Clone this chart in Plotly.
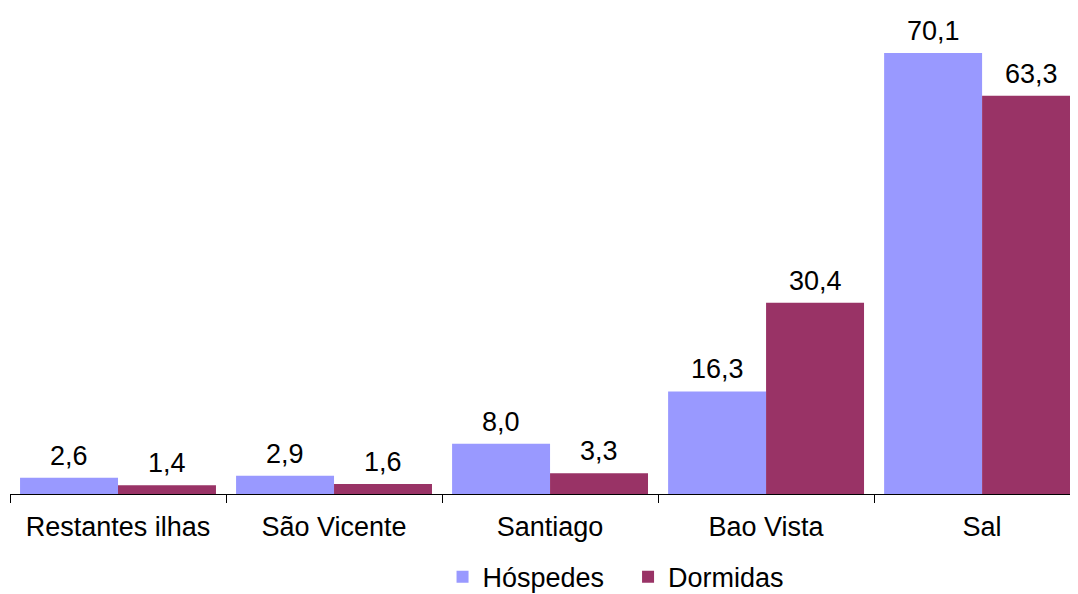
import plotly.graph_objects as go

categories = ["Restantes ilhas", "São Vicente", "Santiago", "Bao Vista", "Sal"]
hospedes = [2.6, 2.9, 8.0, 16.3, 70.1]
dormidas = [1.4, 1.6, 3.3, 30.4, 63.3]
series_names = ["Hóspedes", "Dormidas"]
colors = ["#9999FF", "#993366"]
legend_ids = ["legend", "legend2"]

FONT = "Liberation Sans, Arial, sans-serif"
FS = 27

def fmt(v):
    return f"{v:.1f}".replace(".", ",")

fig = go.Figure()
for name, vals, col, lg in zip(series_names, [hospedes, dormidas], colors, legend_ids):
    fig.add_trace(go.Bar(x=categories, y=vals, name=name, legend=lg,
                         marker=dict(color=col, line=dict(width=0))))

for vals, shift in [(hospedes, -49), (dormidas, 49)]:
    for c, v in zip(categories, vals):
        fig.add_annotation(x=c, y=v, text=fmt(v), showarrow=False, xshift=shift,
                           yanchor="bottom", yshift=5,
                           font=dict(family=FONT, size=FS, color="black"))

legend_style = dict(orientation="h", xanchor="left", y=-0.171, yanchor="middle",
                    font=dict(family=FONT, size=FS, color="black"), itemwidth=30,
                    bgcolor="rgba(0,0,0,0)")

fig.update_layout(
    width=1070, height=586,
    margin=dict(l=2, r=0, t=0, b=100, autoexpand=False),
    barmode="group", bargap=0.093, bargroupgap=0,
    plot_bgcolor="white", paper_bgcolor="white",
    font=dict(family=FONT, size=FS, color="black"),
    showlegend=True,
    legend=dict(x=0.405, **legend_style),
    legend2=dict(x=0.5787, **legend_style),
    xaxis=dict(range=[-0.5, 4.444], showline=True, linecolor="black", linewidth=1,
               ticks="outside", tickson="boundaries", ticklen=8, tickcolor="black",
               automargin=False, ticklabelstandoff=9,
               tickfont=dict(family=FONT, size=FS, color="black"), showgrid=False),
    yaxis=dict(range=[0, 77.27], visible=False, showgrid=False, zeroline=False, automargin=False),
)

fig.write_html("out.html")
